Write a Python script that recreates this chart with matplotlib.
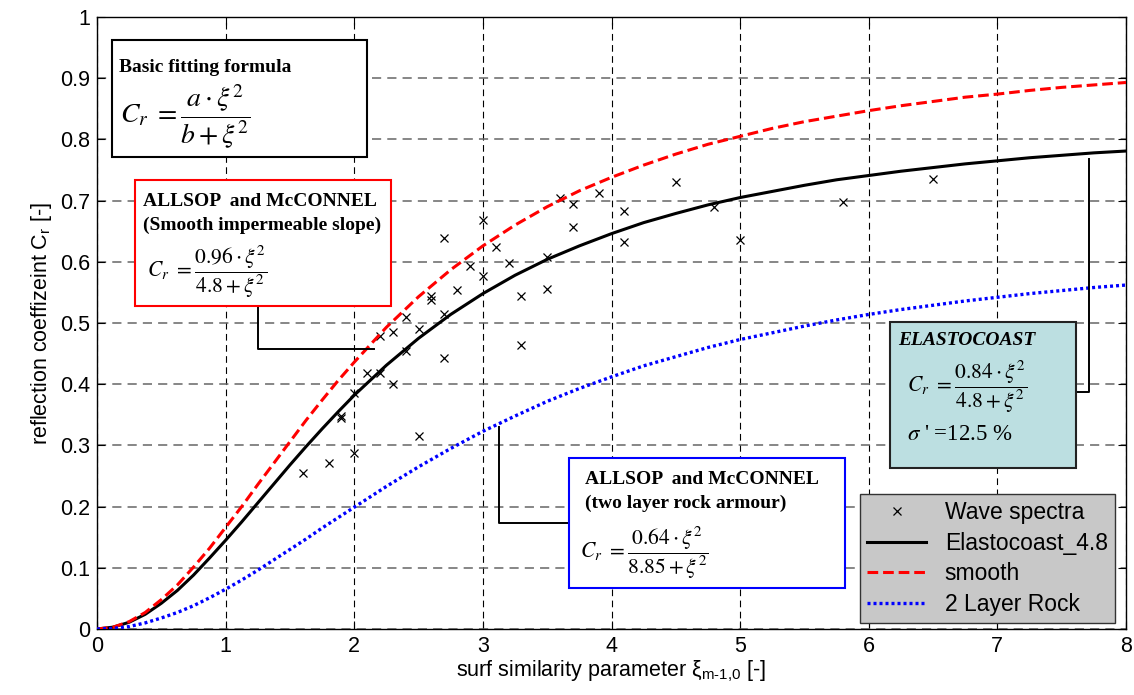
import numpy as np
import matplotlib
matplotlib.use("Agg")
import matplotlib.pyplot as plt
from matplotlib.patches import Rectangle
from matplotlib.lines import Line2D

# ---------------- data ----------------
xi = [0.0, 0.125, 0.25, 0.375, 0.5, 0.625, 0.75, 0.875, 1.0, 1.125, 1.25, 1.375,
      1.5, 1.625, 1.75, 1.875, 2.0, 2.25, 2.5, 2.75, 3.0, 3.25,
      3.5, 3.75, 4.0, 4.25, 4.5, 4.75, 5.0, 5.25, 5.5, 5.75, 6.0, 6.25, 6.5, 6.75,
      7.0, 7.25, 7.5, 7.75, 8.0]
cr_elasto = [0.0, 0.003, 0.011, 0.024, 0.042, 0.063, 0.088, 0.116, 0.145, 0.175,
             0.206, 0.237, 0.268, 0.298, 0.327, 0.355, 0.382, 0.431,
             0.475, 0.514, 0.548, 0.578, 0.604, 0.626, 0.646, 0.664, 0.679, 0.693,
             0.705, 0.715, 0.725, 0.734, 0.741, 0.748, 0.754, 0.760, 0.765, 0.770,
             0.774, 0.778, 0.781]
cr_smooth = [0.0, 0.003, 0.012, 0.027, 0.048, 0.072, 0.101, 0.132, 0.166, 0.200,
             0.236, 0.271, 0.306, 0.341, 0.374, 0.406, 0.436, 0.493,
             0.543, 0.587, 0.626, 0.660, 0.690, 0.716, 0.738, 0.758, 0.776, 0.792,
             0.805, 0.818, 0.829, 0.838, 0.847, 0.855, 0.862, 0.869, 0.874, 0.880,
             0.885, 0.889, 0.893]
cr_rock = [0.0, 0.001, 0.004, 0.010, 0.018, 0.027, 0.038, 0.051, 0.065, 0.080,
           0.096, 0.113, 0.130, 0.147, 0.165, 0.182, 0.199, 0.233,
           0.265, 0.295, 0.323, 0.348, 0.372, 0.393, 0.412, 0.430, 0.445, 0.460,
           0.473, 0.484, 0.495, 0.505, 0.514, 0.522, 0.529, 0.536, 0.542, 0.548,
           0.553, 0.558, 0.562]

wave_xi = [1.6, 1.8, 1.9, 1.9, 2.0, 2.0, 2.1, 2.2, 2.2, 2.3, 2.3, 2.4, 2.4, 2.5,
           2.5, 2.6, 2.6, 2.7, 2.7, 2.7, 2.8, 2.9, 3.0, 3.0, 3.1, 3.2, 3.3, 3.3,
           3.5, 3.5, 3.6, 3.7, 3.7, 3.9, 4.1, 4.1, 4.5, 4.8, 5.0, 5.8, 6.5]
wave_cr = [0.255, 0.272, 0.348, 0.344, 0.288, 0.386, 0.418, 0.418, 0.478, 0.486,
           0.401, 0.510, 0.454, 0.491, 0.316, 0.544, 0.538, 0.639, 0.515, 0.443,
           0.554, 0.593, 0.669, 0.577, 0.625, 0.598, 0.544, 0.464, 0.608, 0.556,
           0.705, 0.695, 0.657, 0.713, 0.683, 0.632, 0.731, 0.690, 0.635, 0.697,
           0.736]

legend_labels = ["Wave spectra", "Elastocoast_4.8", "smooth", "2 Layer Rock"]

# ---------------- figure ----------------
plt.rcParams['font.family'] = ['Liberation Sans', 'DejaVu Sans']
plt.rcParams['mathtext.fontset'] = 'stix'

W, H = 1134, 695
fig = plt.figure(figsize=(W / 100, H / 100), dpi=100)
ax = fig.add_axes([97 / W, 1 - 629 / H, 1029 / W, 612 / H])


def fpx(x, y):
    # pixel position -> figure fraction
    return x / W, 1 - y / H


ax.plot(wave_xi, wave_cr, 'x', color='k', ms=5.5, mew=0.9, label=legend_labels[0], zorder=3)
ax.plot(xi, cr_elasto, '-', color='k', lw=2.2, label=legend_labels[1], zorder=4)
ax.plot(xi, cr_smooth, '--', color='red', lw=2.2, dashes=(3.5, 1.6), label=legend_labels[2], zorder=4)
ax.plot(xi, cr_rock, ':', color='blue', lw=2.4, dashes=(0.9, 0.9), label=legend_labels[3], zorder=4)

ax.set_xlim(0, 8)
ax.set_ylim(0, 1)
ax.set_xticks(range(0, 9))
ax.set_yticks(np.round(np.arange(0, 1.01, 0.1), 1))
ax.set_yticklabels(['0', '0.1', '0.2', '0.3', '0.4', '0.5', '0.6', '0.7', '0.8', '0.9', '1'])
ax.tick_params(direction='in', top=True, right=True, length=6, labelsize=15.5, pad=5)
ax.xaxis.grid(True, color='k', lw=0.8, ls=(0, (6, 4)))
ax.yaxis.grid(True, color='#666666', lw=1.1, ls=(0, (6, 4)))
for s in ax.spines.values():
    s.set_linewidth(1.0)

ax.set_xlabel('surf similarity parameter ξ$_\\mathregular{m\u20101{,}0}$ [-]', fontsize=15.5, labelpad=1)
ax.set_ylabel('reflection coeffizeint C$_\\mathregular{r}$ [-]', fontsize=15.5, labelpad=4)

# ---------------- annotation boxes ----------------
def box(x0, y0, x1, y1, edge, face='white', lw=1.5):
    fx, fy = fpx(x0, y1)
    r = Rectangle((fx, fy), (x1 - x0) / W, (y1 - y0) / H, transform=fig.transFigure,
                  facecolor=face, edgecolor=edge, lw=lw, zorder=10)
    fig.add_artist(r)


def line(xs, ys):
    pts = [fpx(x, y) for x, y in zip(xs, ys)]
    fig.add_artist(Line2D([p[0] for p in pts], [p[1] for p in pts], color='k',
                          lw=1.4, transform=fig.transFigure, zorder=9))


def txt(x, y, s, **kw):
    fx, fy = fpx(x, y)
    fig.text(fx, fy, s, va='center', ha='left', zorder=11, **kw)


serif = ['Liberation Serif', 'DejaVu Serif']

# connector lines
line([258, 258, 374], [306, 349, 349])
line([499, 499, 569], [427, 523, 523])
line([1076, 1089, 1089], [392, 392, 159])

# basic formula
box(112, 40, 367, 157, 'k')
txt(119, 67, 'Basic fitting formula', family=serif, weight='bold', fontsize=14)
txt(120, 117, r'$C_r\ =\dfrac{a\cdot\xi^2}{b+\xi^2}$', fontsize=20)

# smooth
box(135, 180, 391, 306, 'red')
txt(143, 202, 'ALLSOP  and McCONNEL', family=serif, weight='bold', fontsize=14)
txt(143, 225, '(Smooth impermeable slope)', family=serif, weight='bold', fontsize=14)
txt(147, 272, r'$C_r\ =\dfrac{0.96\cdot\xi^2}{4.8+\xi^2}$', fontsize=15.5)

# rock
box(569, 458, 845, 588, 'blue')
txt(585, 480, 'ALLSOP  and McCONNEL', family=serif, weight='bold', fontsize=14)
txt(585, 503, '(two layer rock armour)', family=serif, weight='bold', fontsize=14)
txt(580, 553, r'$C_r\ =\dfrac{0.64\cdot\xi^2}{8.85+\xi^2}$', fontsize=15.5)

# elastocoast
box(890, 322, 1076, 468, '#222222', face='#bcdfe1')
txt(898, 340, 'ELASTOCOAST', family=serif, weight='bold', style='italic', fontsize=14)
txt(907, 387, r'$C_r\ =\dfrac{0.84\cdot\xi^2}{4.8+\xi^2}$', fontsize=15.5)
txt(907, 434, r"$\sigma$ ' =12.5 %", family=serif, fontsize=16.5)

# ---------------- legend ----------------
leg = ax.legend(loc='upper left', bbox_to_anchor=fpx(860, 494), bbox_transform=fig.transFigure,
                fontsize=16.5, frameon=True, fancybox=False, facecolor='#c8c8c8',
                edgecolor='#333333', framealpha=1, borderpad=0.3, labelspacing=0.34,
                handlelength=2.6, handletextpad=0.8, borderaxespad=0)
leg.get_frame().set_linewidth(1.0)
leg.set_zorder(12)

fig.savefig('out.png', dpi=100)
